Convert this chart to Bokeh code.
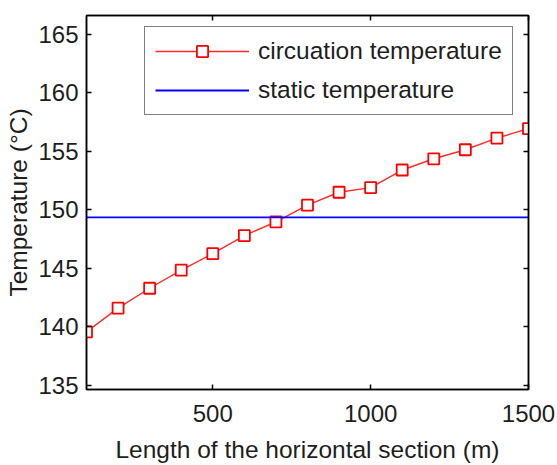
from bokeh.plotting import figure
from bokeh.models import (Range1d, LinearAxis, FixedTicker, Legend, LegendItem, ColumnDataSource)
from bokeh.embed import file_html
from bokeh.resources import INLINE

# Data
length_m = [100, 200, 300, 400, 500, 600, 700, 800, 900, 1000, 1100, 1200, 1300, 1400, 1500]
circulation_temp = [139.57, 141.6, 143.3, 144.85, 146.25, 147.8, 148.97, 150.4, 151.5, 151.9,
                    153.4, 154.36, 155.13, 156.13, 156.93]
static_temp_value = 149.35
static_x = [100, 1500]
static_temp = [static_temp_value, static_temp_value]
x_ticks = [500, 1000, 1500]
y_ticks = [135, 140, 145, 150, 155, 160, 165]

FONT = "Liberation Sans"

p = figure(width=557, height=465, output_backend="svg", toolbar_location=None,
           x_range=Range1d(100, 1500), y_range=Range1d(134.65, 166.6),
           min_border_left=86, min_border_right=29, min_border_top=15, min_border_bottom=75,
           x_axis_type=None, y_axis_type=None)
p.background_fill_color = "white"
p.border_fill_color = "white"
p.outline_line_color = "black"
p.outline_line_width = 1.5

def style_axis(ax, ticks, labels=True):
    ax.ticker = FixedTicker(ticks=ticks)
    ax.axis_line_color = "black"
    ax.axis_line_width = 1.5
    ax.major_tick_in = 5
    ax.major_tick_out = 0
    ax.major_tick_line_color = "black"
    ax.major_tick_line_width = 1.5
    ax.minor_tick_line_color = None
    if labels:
        ax.major_label_text_font = FONT
        ax.major_label_text_font_size = "24px"
        ax.major_label_text_color = "#1e1e1e"
    else:
        ax.major_label_text_font_size = "0px"
        ax.major_label_text_color = None

xb = LinearAxis(axis_label="Length of the horizontal section (m)")
style_axis(xb, x_ticks)
xb.major_label_standoff = 15
xb.axis_label_text_font = FONT
xb.axis_label_text_font_size = "24.5px"
xb.axis_label_text_font_style = "normal"
xb.axis_label_text_color = "#1e1e1e"
xb.axis_label_standoff = 11
p.add_layout(xb, "below")

yl = LinearAxis(axis_label="Temperature (°C)")
style_axis(yl, y_ticks)
yl.major_label_standoff = 8
yl.axis_label_text_font = FONT
yl.axis_label_text_font_size = "24.5px"
yl.axis_label_text_font_style = "normal"
yl.axis_label_text_color = "#1e1e1e"
yl.axis_label_standoff = 3
p.add_layout(yl, "left")

xt = LinearAxis()
style_axis(xt, x_ticks, labels=False)
p.add_layout(xt, "above")

yr = LinearAxis()
style_axis(yr, y_ticks, labels=False)
p.add_layout(yr, "right")

p.xgrid.visible = False
p.ygrid.visible = False

src = ColumnDataSource(dict(x=length_m, y=circulation_temp))
l1 = p.line("x", "y", source=src, line_color="#ff2a2a", line_width=1.4)
m1 = p.scatter("x", "y", source=src, marker="square", size=11,
               line_color="#ff0000", line_width=1.8, fill_color="white")
l2 = p.line(static_x, static_temp, line_color="#0000ff", line_width=1.8)

legend = Legend(items=[
    LegendItem(label="circuation temperature", renderers=[l1, m1]),
    LegendItem(label="static temperature", renderers=[l2]),
], location=(58, 274))
legend.glyph_width = 94
legend.glyph_height = 28
legend.label_height = 28
legend.label_standoff = 9
legend.spacing = 11
legend.padding = 10
legend.margin = 0
legend.border_line_color = "black"
legend.border_line_width = 1.5
legend.background_fill_color = "white"
legend.label_text_font = FONT
legend.label_text_font_size = "24.5px"
legend.label_text_color = "#1e1e1e"
p.add_layout(legend, "center")

open("out.html", "w").write(file_html(p, INLINE))
